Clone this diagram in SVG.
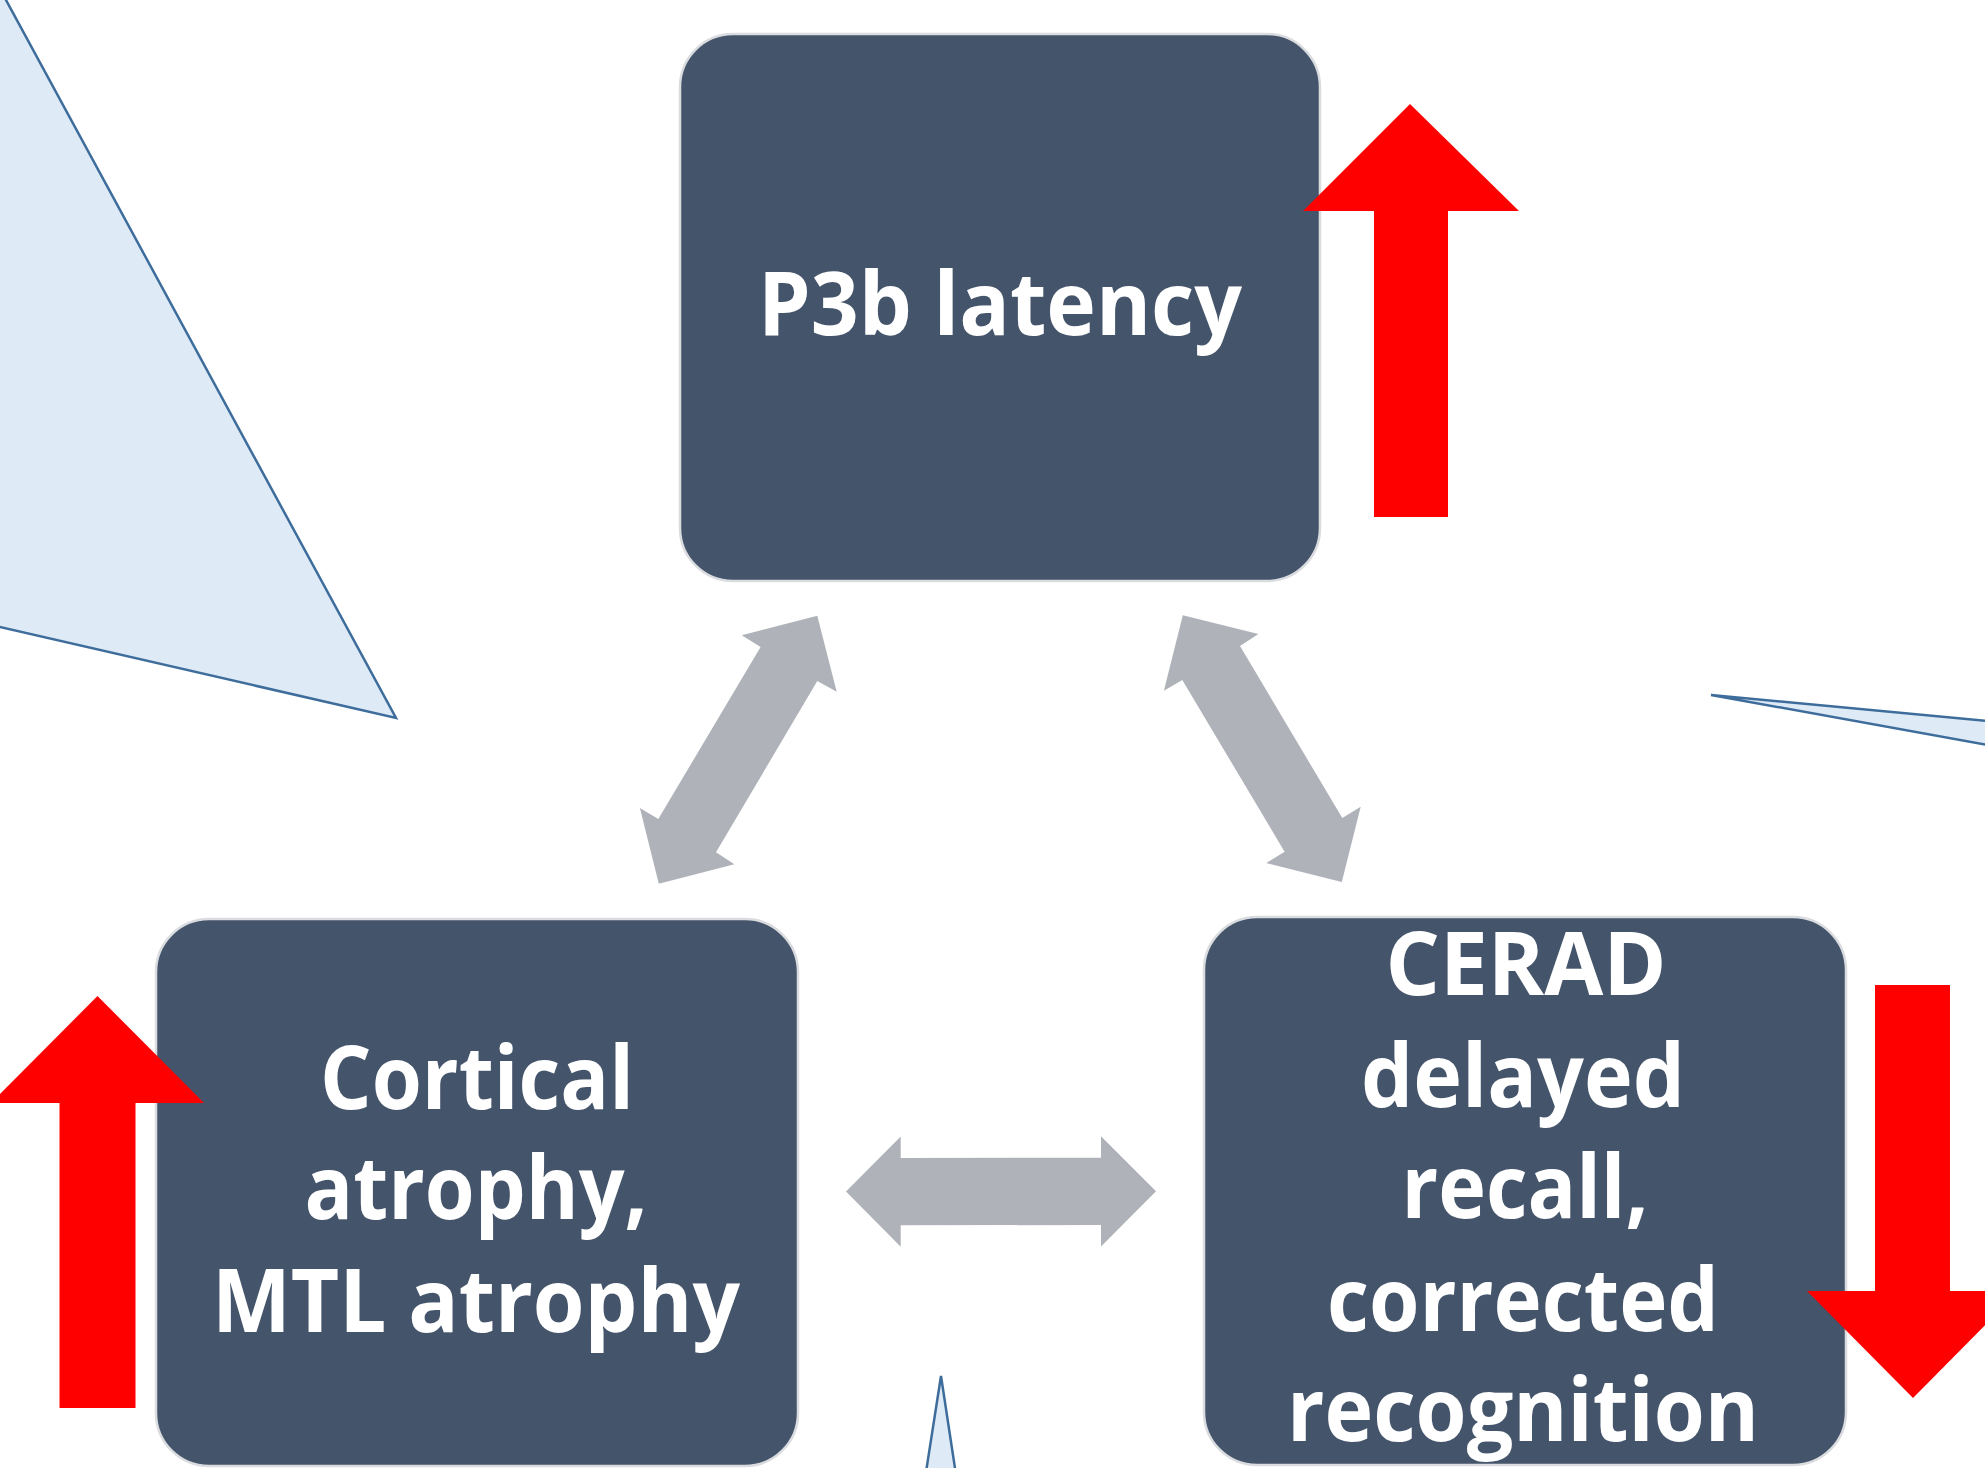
<svg xmlns="http://www.w3.org/2000/svg" width="1985" height="1468" viewBox="0 0 1985 1468">
<style>
.bg{fill:#ffffff}
.callout{fill:#DEEBF7;stroke:#3E6D9C;stroke-width:2.5;stroke-linejoin:miter}
.box{fill:#44546A;stroke:#DADCE0;stroke-width:2.5}
.lbl{fill:#ffffff;font-family:"Open Sans","Lato","Liberation Sans",sans-serif;font-weight:700;font-size:88px;text-anchor:middle;font-variant-ligatures:none}
.link{fill:#AFB2B9}
.red{fill:#FF0000}
</style>
<rect class="bg" x="0" y="0" width="1985" height="1468"/>
<g id="callouts">
<polygon class="callout" points="-4.9,-20 396,718 -20,622.4 -20,-20"/>
<polygon class="callout" points="1711,695 2010,723 2010,749"/>
<polygon class="callout" points="941,1376 958.3,1490 923.2,1490"/>
</g>
<g id="connectors">
<polygon class="link" points="817.3,615.7 836.7,691.7 817.3,681 716,852.3 734.4,864.3 658.8,883.7 639.9,808 658.3,819 760.6,647 741.7,635.3"/>
<polygon class="link" points="1182.8,615.3 1163.9,690.7 1182.3,680 1284.6,851.7 1266.2,863 1341.8,882 1360.7,806.7 1342.3,818 1240,646 1258.4,634"/>
<polygon class="link" points="846,1191.5 900.7,1136.5 900.7,1158 1101,1157.7 1101,1136.2 1156,1191.2 1101,1246.5 1101,1225 900.7,1225.3 900.7,1246.7"/>
</g>
<g id="node-p3b">
<rect class="box" x="680" y="34" width="640" height="547" rx="53" ry="53"/>
<text class="lbl" x="1000" y="335" textLength="484" lengthAdjust="spacingAndGlyphs">P3b latency</text>
</g>
<g id="node-atrophy">
<rect class="box" x="156" y="919" width="642" height="547" rx="53" ry="53"/>
<text class="lbl" x="477" y="1109" textLength="314" lengthAdjust="spacingAndGlyphs">Cortical</text>
<text class="lbl" x="476" y="1219" textLength="343" lengthAdjust="spacingAndGlyphs">atrophy,</text>
<text class="lbl" x="476" y="1332" textLength="528" lengthAdjust="spacingAndGlyphs">MTL atrophy</text>
</g>
<g id="node-cerad">
<rect class="box" x="1204" y="917" width="642" height="548" rx="53" ry="53"/>
<text class="lbl" x="1526" y="995" textLength="281" lengthAdjust="spacingAndGlyphs">CERAD</text>
<text class="lbl" x="1523" y="1107" textLength="324" lengthAdjust="spacingAndGlyphs">delayed</text>
<text class="lbl" x="1525" y="1218" textLength="247" lengthAdjust="spacingAndGlyphs">recall,</text>
<text class="lbl" x="1523" y="1331" textLength="392" lengthAdjust="spacingAndGlyphs">corrected</text>
<text class="lbl" x="1523" y="1441" textLength="472" lengthAdjust="spacingAndGlyphs">recognition</text>
</g>
<g id="arrow-up-p3b">
<polygon class="red" points="1410,104 1519,211 1448,211 1448,517 1374,517 1374,211 1303,211"/>
</g>
<g id="arrow-up-atrophy">
<polygon class="red" points="97.5,996 204,1103 135.5,1103 135.5,1408 59.5,1408 59.5,1103 -9,1103"/>
</g>
<g id="arrow-down-cerad">
<polygon class="red" points="1875,985 1950,985 1950,1291 2019,1291 1913,1398 1807,1291 1875,1291"/>
</g>
</svg>
